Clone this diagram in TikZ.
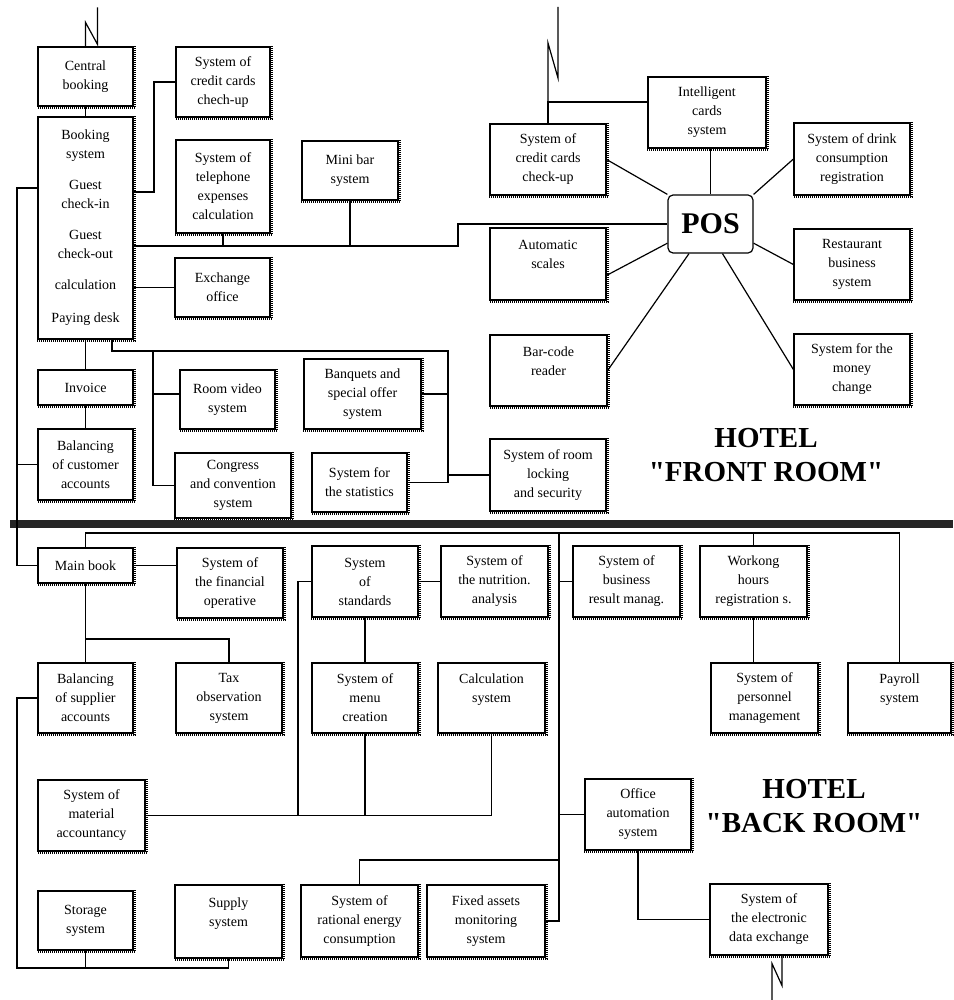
\documentclass[tikz,border=0pt]{standalone}
\usepackage{fontspec}
\setmainfont{Liberation Serif}
\newfontfamily\titlefont{Liberation Serif}[Ligatures=TeXOff]
\usetikzlibrary{calc}

\tikzset{
  sysbox/.style={draw, line width=1.2pt, rectangle, inner sep=0pt, align=center,
    font=\fontsize{14}{19}\selectfont},
  jag/.style={line width=1.6pt, dash pattern=on 1pt off 1pt},
  link/.style={line width=1.2pt},
  title/.style={align=center, font=\titlefont\fontsize{29}{34}\selectfont\bfseries},
}
% box from its two corners (pixels)
\newcommand{\hotelbox}[6]{%
  \node[sysbox, minimum width={(#4-#2)*1pt}, minimum height={(#5-#3)*1pt}]
    (#1) at ({(#2+#4)/2},{(#3+#5)/2}) {#6};}

\begin{document}
\begin{tikzpicture}[x=1pt,y=-1pt]
    \useasboundingbox (0,0) rectangle (953,1000);

    % front room boxes
    \hotelbox{central}{38}{47}{133}{106}{Central\\booking}
    \hotelbox{booking}{38}{117}{133}{339}{Booking\\system\\[12pt]Guest\\check-in\\[12pt]Guest\\check-out\\[12pt]calculation\\[14pt]Paying desk}
    \hotelbox{creditl}{176}{47}{270}{117}{System of\\credit cards\\chech-up}
    \hotelbox{phone}{176}{140}{270}{233}{System of\\telephone\\expenses\\calculation}
    \hotelbox{minibar}{302}{141}{398}{200}{Mini bar\\system}
    \hotelbox{exchange}{175}{258}{270}{317}{Exchange\\office}
    \hotelbox{invoice}{38}{370}{133}{405}{Invoice}
    \hotelbox{custbal}{38}{429}{133}{500}{Balancing\\of customer\\accounts}
    \hotelbox{roomvideo}{180}{370}{275}{429}{Room video\\system}
    \hotelbox{banquets}{304}{359}{421}{429}{Banquets and\\special offer\\system}
    \hotelbox{congress}{175}{453}{291}{518}{Congress\\and convention\\system}
    \hotelbox{statistics}{312}{453}{407}{512}{System for\\the statistics}
    \hotelbox{locking}{490}{439}{606}{511}{System of room\\locking\\and security}

    % POS and its systems
    \node[draw, line width=1.2pt, rounded corners=5pt, minimum width=85pt, minimum height=58pt,
      font=\fontsize{30}{30}\selectfont\bfseries] (pos) at (710.5,224) {POS};
    \hotelbox{creditr}{490}{124}{606}{195}{System of\\credit cards\\check-up}
    \hotelbox{intelligent}{648}{77}{766}{148}{Intelligent\\cards\\system}
    \hotelbox{scales}{490}{228}{606}{300}{Automatic\\scales\\~}
    \hotelbox{barcode}{490}{335}{607}{406}{Bar-code\\reader\\~}
    \hotelbox{drink}{794}{123}{910}{195}{System of drink\\consumption\\registration}
    \hotelbox{restaurant}{794}{229}{910}{300}{Restaurant\\business\\system}
    \hotelbox{money}{794}{334}{910}{405}{System for the\\money\\change}

    % back room boxes
    \hotelbox{mainbook}{38}{548}{133}{583}{Main book}
    \hotelbox{financial}{177}{548}{283}{618}{System of\\the financial\\operative}
    \hotelbox{suppbal}{38}{663}{133}{733}{Balancing\\of supplier\\accounts}
    \hotelbox{tax}{176}{663}{282}{733}{Tax\\observation\\system}
    \hotelbox{standards}{312}{546}{418}{617}{System\\of\\standards}
    \hotelbox{nutrition}{441}{546}{548}{617}{System of\\the nutrition.\\analysis}
    \hotelbox{business}{573}{546}{680}{617}{System of\\business\\result manag.}
    \hotelbox{workong}{700}{546}{807}{617}{Workong\\hours\\registration s.}
    \hotelbox{personnel}{711}{663}{818}{733}{System of\\personnel\\management}
    \hotelbox{payroll}{848}{663}{951}{733}{Payroll\\system\\~}
    \hotelbox{menu}{312}{663}{418}{733}{System of\\menu\\creation}
    \hotelbox{calc}{438}{663}{545}{733}{Calculation\\system\\~}
    \hotelbox{material}{38}{780}{145}{851}{System of\\material\\accountancy}
    \hotelbox{storage}{38}{891}{133}{950}{Storage\\system}
    \hotelbox{supply}{175}{885}{282}{958}{Supply\\system\\~}
    \hotelbox{rational}{301}{885}{418}{957}{System of\\rational energy\\consumption}
    \hotelbox{fixed}{427}{885}{545}{957}{Fixed assets\\monitoring\\system}
    \hotelbox{office}{585}{779}{691}{850}{Office\\automation\\system}
    \hotelbox{ede}{710}{884}{828}{955}{System of\\the electronic\\data exchange}

    % jagged edges
    \foreach \n in {central,booking,creditl,phone,minibar,exchange,invoice,custbal,
        roomvideo,banquets,congress,statistics,locking,creditr,intelligent,scales,
        barcode,drink,restaurant,money,mainbook,financial,suppbal,tax,standards,
        nutrition,business,workong,personnel,payroll,menu,calc,material,storage,
        supply,rational,fixed,office,ede}
        \draw[jag] ([xshift=1.4pt]\n.north east) -- ([xshift=1.4pt,yshift=-1.4pt]\n.south east)
            -- ([yshift=-1.4pt]\n.south west);

    % titles
    \node[title] (fronttitle) at (766,455) {HOTEL\\"FRONT ROOM"};
    \node[title] (backtitle) at (814,806) {HOTEL\\"BACK ROOM"};

    % separator
    \fill[black!85] (10,520) rectangle (953,528);

    % junctions
    \coordinate (jcc) at (154,192);
    \coordinate (busf) at (458,246);
    \coordinate (lb) at (17,188);
    \coordinate (pd) at (112,351);
    \coordinate (pdx) at (448,351);
    \coordinate (vx) at (153,351);
    \coordinate (jic) at (548,102);
    \coordinate (bbus) at (559,533);
    \coordinate (jren) at (559,860);
    \coordinate (jtax) at (85.5,639);
    \coordinate (lbot) at (17,968);
    \coordinate (jstd) at (298,0);

    % front room links
    \draw[link] (central.south) -- (booking.north);
    \draw[link] (booking.east |- jcc) -- (jcc) |- (creditl.west);
    \draw[link] (booking.east |- busf) -- (busf) |- (pos.west);
    \draw[link] (phone.south) -- (phone.south |- busf);
    \draw[link] (minibar.south) -- (minibar.south |- busf);
    \draw[link] (booking.east |- exchange.west) -- (exchange.west);
    \draw[link] (booking.south -| pd) -- (pd) -- (pdx) |- (statistics.east);
    \draw[link] (banquets.east) -- (banquets.east -| pdx);
    \draw[link] (locking.west) -- (locking.west -| pdx);
    \draw[link] (vx) |- (congress.west);
    \draw[link] (roomvideo.west |- banquets.east) -- (vx |- banquets.east);
    \draw[link] (booking.south) -- (invoice.north);
    \draw[link] (invoice.south) -- (custbal.north);
    \draw[link] (booking.west |- lb) -- (lb) |- (mainbook.west);
    \draw[link] (custbal.west) -- (custbal.west -| lb);

    % POS links
    \draw[link] (creditr.north) -- (jic) -- (jic -| intelligent.west);
    \draw[link] (pos.north |- intelligent.south) -- (pos.north);
    \draw[link] (creditr.east) -- (pos.north west);
    \draw[link] (scales.-11) -- (pos.204);
    \draw[link] (barcode.east) -- (pos.234);
    \draw[link] (drink.west) -- (pos.north east);
    \draw[link] (restaurant.west) -- (pos.-24);
    \draw[link] (money.west) -- (pos.-68);

    % back room links
    \draw[link] (mainbook.north) -- (mainbook.north |- bbus) -| (payroll.north);
    \draw[link] (workong.north) -- (workong.north |- bbus);
    \draw[link] (workong.south) -- (workong.south |- personnel.north);
    \draw[link] (bbus) |- (fixed.east);
    \draw[link] (business.west) -- (business.west -| bbus);
    \draw[link] (office.west) -- (office.west -| bbus);
    \draw[link] (jren) -| (rational.north);
    \draw[link] (office.south) |- (ede.west);
    \draw[link] (mainbook.east) -- (mainbook.east -| financial.west);
    \draw[link] (mainbook.south) -- (suppbal.north);
    \draw[link] (jtax) -| (tax.north);
    \draw[link] (suppbal.west) -| (lbot) -| (supply.south);
    \draw[link] (storage.south) -- (storage.south |- lbot);
    \draw[link] (standards.west) -- (standards.west -| jstd) |- (material.east);
    \draw[link] (material.east) -| (calc.south);
    \draw[link] (menu.south) -- (menu.south |- material.east);
    \draw[link] (standards.south) -- (menu.north);
    \draw[link] (standards.east) -- (nutrition.west);

    % outside links
    \draw[link] (central.north) -- ++(0,-24) -- ++(12,22) -- ++(0,-37);
    \draw[link] (jic) -- ++(0,-59) -- ++(10,35) -- ++(0,-71);
    \draw[link] ([xshift=13pt]ede.south) -- ++(0,30) -- ++(-10,-22) -- ++(0,37);
\end{tikzpicture}
\end{document}
